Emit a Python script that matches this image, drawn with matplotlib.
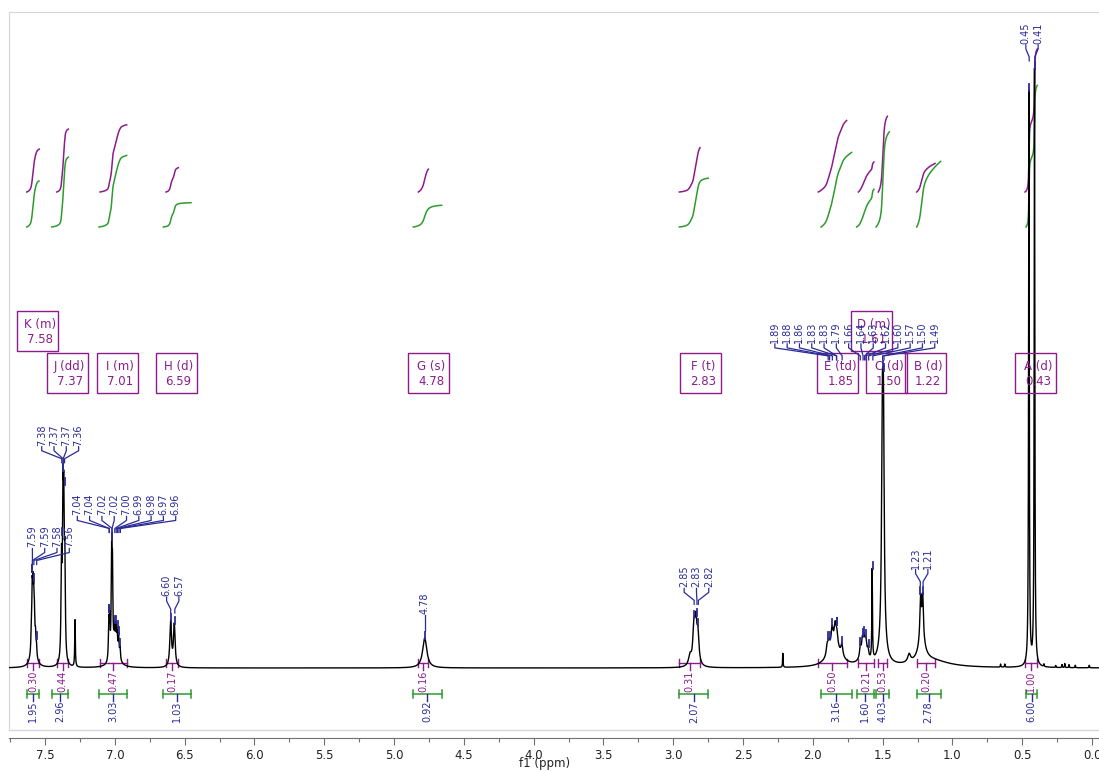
import numpy as np
import matplotlib
matplotlib.use("Agg")
import matplotlib.pyplot as plt
from matplotlib.patches import Rectangle
from matplotlib.ticker import MultipleLocator, FormatStrFormatter

plt.rcParams['font.family'] = ['DejaVu Sans']

# ---------------------------------------------------------------- data
# 1H spectrum as a list of Lorentzian lines: shift (ppm), height, half width (ppm)
line_shift = [7.598, 7.592, 7.587, 7.581, 7.576, 7.568, 7.561, 7.583,
              7.382, 7.372, 7.366, 7.358,
              7.285,
              7.043, 7.037, 7.023, 7.017, 7.003, 6.993, 6.984, 6.973, 6.963, 6.995,
              6.600, 6.574,
              4.780,
              2.880, 2.852, 2.838, 2.823,
              2.215,
              1.897, 1.885, 1.862, 1.840, 1.828, 1.792, 1.845,
              1.660, 1.645, 1.632, 1.620, 1.605, 1.635,
              1.575,
              1.502, 1.494, 1.500,
              1.310, 1.228, 1.213, 1.220, 1.150,
              0.452, 0.412,
              0.655, 0.625, 0.345, 0.260, 0.215, 0.195, 0.165, 0.120, 0.020]
line_height = [20, 45, 35, 25, 20, 15, 10, 45,
               95, 132, 132, 90,
               47,
               35, 35, 95, 80, 18, 20, 18, 20, 12, 18,
               45, 42,
               30,
               10, 35, 38, 28,
               14,
               10, 10, 18, 18, 12, 12, 22,
               10, 12, 11, 12, 8, 15,
               90,
               195, 195, 15,
               8, 42, 42, 22, 7,
               575, 597,
               3, 3, 2.5, 2, 3, 4, 3, 2.5, 2.5]
line_hwhm = [0.003, 0.003, 0.003, 0.003, 0.003, 0.003, 0.003, 0.013,
             0.004, 0.004, 0.004, 0.004,
             0.0025,
             0.0035, 0.0035, 0.0035, 0.0035, 0.0035, 0.0035, 0.0035, 0.0035, 0.0035, 0.025,
             0.007, 0.007,
             0.018,
             0.012, 0.009, 0.009, 0.009,
             0.002,
             0.008, 0.008, 0.008, 0.008, 0.008, 0.008, 0.05,
             0.006, 0.006, 0.006, 0.006, 0.006, 0.025,
             0.0025,
             0.0065, 0.0065, 0.03,
             0.012, 0.006, 0.006, 0.028, 0.15,
             0.0028, 0.0028,
             0.002, 0.002, 0.002, 0.002, 0.002, 0.002, 0.002, 0.002, 0.002]

# multiplet analysis
mult_name = ['K', 'J', 'I', 'H', 'G', 'F', 'E', 'D', 'C', 'B', 'A']
mult_kind = ['m', 'dd', 'm', 'd', 's', 't', 'td', 'm', 'd', 'd', 'd']
mult_shift = [7.58, 7.37, 7.01, 6.59, 4.78, 2.83, 1.85, 1.61, 1.50, 1.22, 0.43]

# picked peaks, grouped as they are labelled
peak_groups = [
    [7.59, 7.59, 7.58, 7.56],
    [7.38, 7.37, 7.37, 7.36],
    [7.04, 7.04, 7.02, 7.02, 7.00, 6.99, 6.98, 6.97, 6.96],
    [6.60, 6.57],
    [4.78],
    [2.85, 2.83, 2.82],
    [1.89, 1.88, 1.86, 1.83, 1.83, 1.79, 1.66, 1.64, 1.63, 1.62, 1.60, 1.57, 1.50, 1.49],
    [1.23, 1.21],
    [0.45, 0.41],
]

# integrals: normalised set (upper curves) and absolute set (lower curves)
int_norm_range = [(7.631, 7.541), (7.416, 7.333), (7.106, 6.915), (6.633, 6.545),
                  (4.826, 4.754), (2.956, 2.808), (1.961, 1.758), (1.674, 1.562),
                  (1.531, 1.466), (1.256, 1.124), (0.480, 0.392)]
int_norm_value = [0.30, 0.44, 0.47, 0.17, 0.16, 0.31, 0.50, 0.21, 0.53, 0.20, 1.00]
int_abs_range = [(7.631, 7.543), (7.452, 7.333), (7.113, 6.915), (6.652, 6.454),
                 (4.862, 4.659), (2.956, 2.749), (1.941, 1.722), (1.686, 1.562),
                 (1.547, 1.452), (1.256, 1.084), (0.473, 0.392)]
int_abs_value = [1.95, 2.96, 3.03, 1.03, 0.92, 2.07, 3.16, 1.60, 4.03, 2.78, 6.00]

# ---------------------------------------------------------------- layout
W, H = 1099, 772
XL, XR = 7.758, -0.050
PX = 1090 / (XL - XR)            # pixels per ppm


def Y(p):
    """figure pixel row -> data y"""
    return H - p


def ppm_at(px):
    return XL - (px - 9) / PX


def px_at(ppm):
    return 9 + (XL - ppm) * PX


PURPLE = '#8c1c8c'
BLUE = '#2b2b98'
GREEN = '#2f9a2f'
BASE = Y(668)

fig = plt.figure(figsize=(W / 100, H / 100), dpi=100)
ax = fig.add_axes([9 / W, 42 / H, 1090 / W, 718 / H])
ax.set_xlim(XL, XR)
ax.set_ylim(42, 760)

# spectrum trace
x = np.linspace(XL, XR, 80000)
spec = np.full_like(x, BASE)
for s, h, w in zip(line_shift, line_height, line_hwhm):
    spec += h / (1.0 + ((x - s) / w) ** 2)
ax.plot(x, spec, color='black', lw=1.0, zorder=3)


def local_top(ppm, half=0.005):
    m = (x <= ppm + half) & (x >= ppm - half)
    return spec[m].max()


# integral curves
def integral_curve(lo_hi, value, base_px, scale, color):
    hi, lo = lo_hi
    m = (x <= hi) & (x >= lo)
    xs = x[m]
    ys = spec[m] - BASE
    c = np.concatenate([[0.0], np.cumsum((ys[1:] + ys[:-1]) / 2)])
    c = c / c[-1]
    ax.plot(xs, Y(base_px) + value * scale * c, color=color, lw=1.1, zorder=2)


for r, v in zip(int_norm_range, int_norm_value):
    integral_curve(r, v, 192, 143, PURPLE)
for r, v in zip(int_abs_range, int_abs_value):
    integral_curve(r, v, 227, 23.6, GREEN)

# integral brackets and values under the baseline
for (hi, lo), v in zip(int_norm_range, int_norm_value):
    mid = (hi + lo) / 2
    ax.plot([hi, lo], [Y(663)] * 2, color=PURPLE, lw=1)
    ax.plot([hi, hi], [Y(659), Y(667)], color=PURPLE, lw=1)
    ax.plot([lo, lo], [Y(659), Y(667)], color=PURPLE, lw=1)
    ax.plot([mid, mid], [Y(663), Y(670)], color=PURPLE, lw=1)
    ax.text(mid, Y(671), f"{v:.2f}", rotation=90, ha='center', va='top',
            fontsize=7, color=PURPLE)
for (hi, lo), v in zip(int_abs_range, int_abs_value):
    mid = (hi + lo) / 2
    ax.plot([hi, lo], [Y(694)] * 2, color=GREEN, lw=1.1)
    ax.plot([hi, hi], [Y(690), Y(698)], color=GREEN, lw=1.1)
    ax.plot([lo, lo], [Y(690), Y(698)], color=GREEN, lw=1.1)
    ax.plot([mid, mid], [Y(694), Y(701)], color=BLUE, lw=1)
    ax.text(mid, Y(701), f"{v:.2f}", rotation=90, ha='center', va='top',
            fontsize=7, color=BLUE)

# multiplet boxes, placed right to left; a box that collides moves up a row
BOX_W, BOX_H = 41, 40
row_top = [353, 311]
rows = [[], []]
for i in sorted(range(len(mult_shift)), key=lambda k: mult_shift[k]):
    cx = px_at(mult_shift[i]) + 4
    left, right = cx - BOX_W / 2, cx + BOX_W / 2
    row = 0
    if any(left < r - 2.5 and right > l + 2.5 for l, r in rows[0]):
        row = 1
    rows[row].append((left, right))
    top = row_top[row]
    ax.add_patch(Rectangle((ppm_at(right), Y(top + BOX_H)), ppm_at(left) - ppm_at(right),
                           BOX_H, fill=False, edgecolor=PURPLE, lw=1, zorder=4))
    ax.text(ppm_at(cx + 2.5), Y(top + BOX_H / 2 + 1),
            f"{mult_name[i]} ({mult_kind[i]})\n{mult_shift[i]:.2f}",
            ha='center', va='center', fontsize=8.5, color=PURPLE,
            linespacing=1.25, zorder=5)

# peak labels with their connectors
label_shift_px = [17, -3, 12, 0, 0, 0, 0, 0, 0]
SPACING = 12.3
for g, off in zip(peak_groups, label_shift_px):
    pk_px = np.array([px_at(p) for p in g])
    n = len(g)
    centre = pk_px.mean() + off
    lab_px = centre + (np.arange(n) - (n - 1) / 2) * SPACING
    top = max(spec[(x <= max(g) + 0.012) & (x >= min(g) - 0.012)])
    conv = top + 9
    tb = top + 24
    for p, lp in zip(g, lab_px):
        lx = ppm_at(lp)
        ax.text(lx, tb, f"{p:.2f}", rotation=90, ha='center', va='bottom',
                fontsize=7, color=BLUE, zorder=6)
        ax.plot([lx, lx, p, p], [tb - 1, tb - 5, conv + 2, conv - 2],
                color=BLUE, lw=0.9, zorder=6)
        ya = local_top(p)
        ax.plot([p, p], [ya - 1, ya + 6], color=BLUE, lw=1.3, zorder=6)

# axes styling
for side in ('left', 'top'):
    ax.spines[side].set_color('#d6d6d6')
ax.spines['right'].set_visible(False)
ax.spines['bottom'].set_position(('outward', 6))
ax.spines['bottom'].set_color('#707070')
ax.plot([XL, XR], [42, 42], color='#d6d6d6', lw=1, clip_on=False)

ax.xaxis.set_major_locator(MultipleLocator(0.5))
ax.xaxis.set_minor_locator(MultipleLocator(0.25))
ax.xaxis.set_major_formatter(FormatStrFormatter('%.1f'))
ax.tick_params(axis='x', which='major', length=5, width=0.8, color='#707070',
               labelsize=8.5, labelcolor='#222222', pad=3)
ax.tick_params(axis='x', which='minor', length=3, width=0.8, color='#707070')
ax.tick_params(axis='y', left=False, labelleft=False)
fig.text(545 / W, 1 - 763 / H, 'f1 (ppm)', ha='center', va='center',
         fontsize=8.5, color='#222222')

fig.savefig('out.png', dpi=100)
